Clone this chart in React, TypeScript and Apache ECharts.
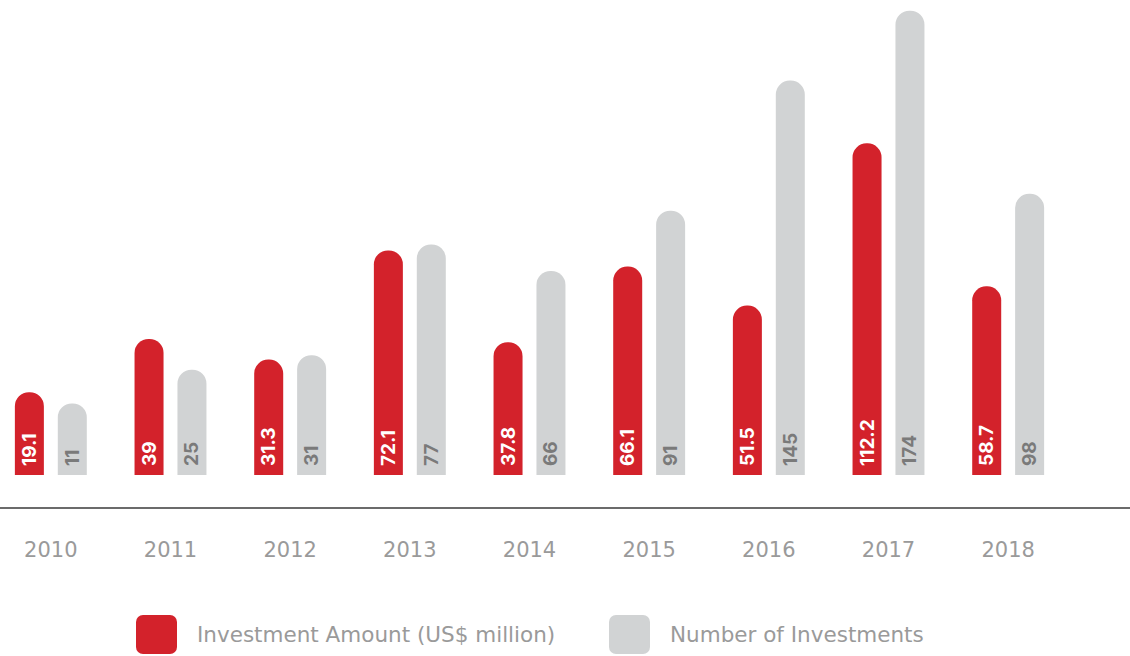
import React, { useEffect, useRef } from 'react';
import * as echarts from 'echarts';

const years = ['2010', '2011', '2012', '2013', '2014', '2015', '2016', '2017', '2018'];
const investmentAmount = [19.1, 39, 31.3, 72.1, 37.8, 66.1, 51.5, 112.2, 58.7];
const investmentCount = [11, 25, 31, 77, 66, 91, 145, 174, 98];
const seriesNames = ['Investment Amount (US$ million)', 'Number of Investments'];

// axis ranges (bars grow from the axis start value)
const amountAxisRange = [-11.9, 162.1];
const countAxisRange = [-18.7, 174.3];

const RED = '#d3222b';
const GREY = '#d1d3d4';
const TEXT_FONT = '"DejaVu Sans", sans-serif';
const LABEL_FONT = 'Inter, "Noto Sans", sans-serif';
const SHIFT = 9; // chart div starts 9px left of the page edge
const ICON =
  'path://M7,0 H34 A7,7 0 0 1 41,7 V32 A7,7 0 0 1 34,39 H7 A7,7 0 0 1 0,32 V7 A7,7 0 0 1 7,0 Z';

export default function App() {
  const ref = useRef<HTMLDivElement>(null);

  useEffect(() => {
    if (!ref.current) return;
    const chart = echarts.init(ref.current, undefined, { renderer: 'svg' });
    const labelBase = {
      show: true,
      position: 'insideBottom',
      rotate: 90,
      align: 'left',
      verticalAlign: 'middle',
      distance: 9,
      fontFamily: LABEL_FONT,
      fontWeight: 'bold',
      fontSize: 19,
    };
    const legendBase = {
      top: 615,
      padding: 0,
      icon: ICON,
      itemWidth: 41,
      itemHeight: 39,
      textStyle: { color: '#9a9a9a', fontSize: 21.5, fontFamily: TEXT_FONT, padding: [2, 0, 0, 15] },
      selectedMode: false,
    };
    chart.setOption({
      animation: false,
      backgroundColor: '#ffffff',
      grid: { left: 0, width: 1077, top: 10, bottom: 181, containLabel: false },
      legend: [
        { ...legendBase, left: 136 + SHIFT, data: [seriesNames[0]] },
        { ...legendBase, left: 609 + SHIFT, data: [seriesNames[1]] },
      ],
      xAxis: {
        type: 'category',
        data: years,
        axisLine: { show: false },
        axisTick: { show: false },
        axisLabel: { color: '#9a9a9a', fontSize: 21, fontFamily: TEXT_FONT, margin: 64 },
      },
      yAxis: [
        {
          type: 'value',
          show: false,
          min: amountAxisRange[0],
          max: amountAxisRange[1],
          startValue: amountAxisRange[0],
          splitLine: { show: false },
        },
        {
          type: 'value',
          show: false,
          min: countAxisRange[0],
          max: countAxisRange[1],
          startValue: countAxisRange[0],
          splitLine: { show: false },
        },
      ],
      graphic: [
        {
          type: 'line',
          shape: { x1: 0, y1: 508, x2: 1130 + SHIFT, y2: 508 },
          style: { stroke: '#6b6b6b', lineWidth: 2 },
          silent: true,
        },
      ],
      series: [
        {
          name: seriesNames[0],
          type: 'bar',
          yAxisIndex: 0,
          data: investmentAmount,
          barWidth: 29,
          barGap: '48%',
          itemStyle: { color: RED, borderRadius: [14, 14, 0, 0] },
          label: { ...labelBase, color: '#ffffff' },
        },
        {
          name: seriesNames[1],
          type: 'bar',
          yAxisIndex: 1,
          data: investmentCount,
          barWidth: 29,
          barGap: '48%',
          itemStyle: { color: GREY, borderRadius: [14, 14, 0, 0] },
          label: { ...labelBase, color: '#7a7a7a' },
        },
      ],
    });
    return () => chart.dispose();
  }, []);

  return (
    <div
      ref={ref}
      style={{ position: 'absolute', left: -SHIFT, top: 0, width: 1130 + SHIFT, height: 656 }}
    />
  );
}
